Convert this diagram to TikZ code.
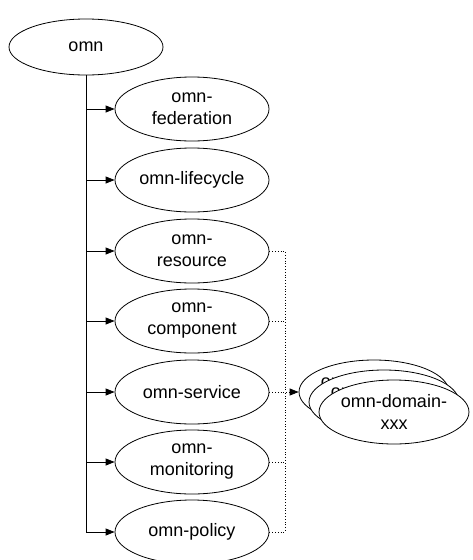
\documentclass[tikz,border=0pt]{standalone}
\usepackage{fontspec}
\setmainfont{Liberation Sans}
\usetikzlibrary{shapes.geometric,arrows.meta}

\begin{document}
\begin{tikzpicture}[x=1pt, y=-1pt, line width=0.8pt]
    \useasboundingbox (0,0) rectangle (473,560);
    \draw[every node/.style={ellipse, draw, fill=white, inner sep=0pt, align=center,
            minimum width=154pt, minimum height=64pt,
            font=\fontsize{18}{22}\selectfont}]
        (86, 47) node[minimum height=56pt] (omn){omn}
        (192, 109) node (fed){omn-\\federation}
        (192, 180) node (lif){omn-lifecycle}
        (192, 251) node (res){omn-\\resource}
        (192, 321) node (cmp){omn-\\component}
        (192, 392) node (svc){omn-service}
        (192, 462) node (mon){omn-\\monitoring}
        (192, 532) node (pol){omn-policy}
        (374, 392) node[minimum width=148pt] (dom1){omn-domain-\\xxx}
        (384, 402) node[minimum width=148pt] (dom2){omn-domain-\\xxx}
        (394, 412) node[minimum width=148pt] (dom3){omn-domain-\\xxx};
    \coordinate (bus) at (285, 392);
    \begin{scope}[-{Triangle[length=9pt,width=7pt]}]
        \draw (omn.south) |- (fed.west);
        \draw (omn.south) |- (lif.west);
        \draw (omn.south) |- (res.west);
        \draw (omn.south) |- (cmp.west);
        \draw (omn.south) |- (svc.west);
        \draw (omn.south) |- (mon.west);
        \draw (omn.south) |- (pol.west);
    \end{scope}
    \begin{scope}[dotted]
        \draw (res.east) -| (bus);
        \draw (cmp.east) -| (bus);
        \draw (mon.east) -| (bus);
        \draw (pol.east) -| (bus);
        \draw[-{Triangle[length=9pt,width=7pt]}] (svc.east) -- (dom1.west);
    \end{scope}
\end{tikzpicture}
\end{document}
